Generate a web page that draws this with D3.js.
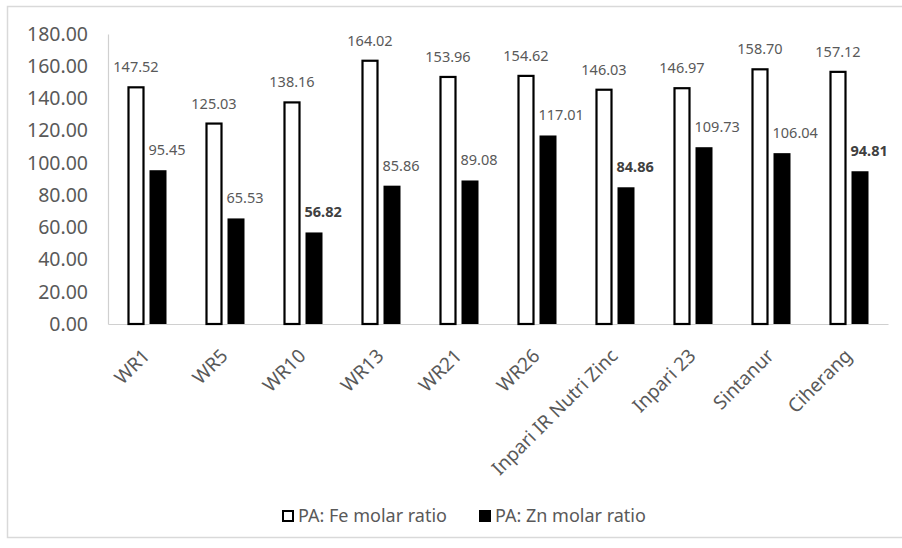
<!DOCTYPE html>
<html>
<head>
<meta charset="utf-8">
<script src="https://cdn.jsdelivr.net/npm/d3@7/dist/d3.min.js"></script>
<style>
  html, body { margin: 0; padding: 0; background: #fff; }
  svg { display: block; font-family: "Noto Sans", "Open Sans", sans-serif; }
</style>
</head>
<body>
<svg id="chart" width="902" height="548"></svg>
<script>
const categories = ["WR1", "WR5", "WR10", "WR13", "WR21", "WR26", "Inpari IR Nutri Zinc", "Inpari 23", "Sintanur", "Ciherang"];
const feRatio = [147.52, 125.03, 138.16, 164.02, 153.96, 154.62, 146.03, 146.97, 158.70, 157.12];
const znRatio = [95.45, 65.53, 56.82, 85.86, 89.08, 117.01, 84.86, 109.73, 106.04, 94.81];
const yTicks = [0, 20, 40, 60, 80, 100, 120, 140, 160, 180];
const seriesNames = ["PA: Fe molar ratio", "PA: Zn molar ratio"];

const svg = d3.select("#chart");
const textColor = "#595959";

// outer frame
svg.append("rect").attr("x", 7.5).attr("y", 6.5).attr("width", 900).attr("height", 531)
  .attr("fill", "none").attr("stroke", "#d9d9d9").attr("stroke-width", 1.5);

const x = d3.scaleBand().domain(categories).range([108, 888]).paddingInner(0).paddingOuter(0);
const y = d3.scaleLinear().domain([0, 180]).range([324, 34]);

// y axis
const yAxis = d3.axisLeft(y).tickValues(yTicks).tickFormat(d3.format(".2f")).tickSize(0).tickPadding(20);
const gy = svg.append("g").attr("transform", "translate(108,0)").call(yAxis);
gy.select(".domain").attr("stroke", "#d0d0d0").attr("stroke-width", 1.2);
gy.selectAll("text").attr("fill", textColor).style("font-size", "19.5px")
  .style("font-family", "'Noto Sans', sans-serif");

// x axis
const xAxis = d3.axisBottom(x).tickSize(0).tickFormat("");
const gx = svg.append("g").attr("transform", "translate(0,324)").call(xAxis);
gx.select(".domain").attr("stroke", "#d0d0d0").attr("stroke-width", 1.2);

// category labels
svg.append("g").selectAll("text").data(categories).join("text")
  .attr("transform", d => `translate(${x(d) + x.bandwidth() / 2 + 4},357) rotate(-45)`)
  .attr("text-anchor", "end")
  .attr("fill", textColor)
  .style("font-size", "19px")
  .text(d => d);

const barW = 17;
const gap = 2.5;
const cx = d => x(d) + x.bandwidth() / 2;

// Fe bars (white with black border)
svg.append("g").selectAll("rect").data(categories).join("rect")
  .attr("x", d => cx(d) - gap - barW + 1)
  .attr("y", (d, i) => y(feRatio[i]) + 1)
  .attr("width", barW - 2)
  .attr("height", (d, i) => y(0) - y(feRatio[i]) - 1)
  .attr("fill", "#fff").attr("stroke", "#000").attr("stroke-width", 2.2);

// Zn bars (black)
svg.append("g").selectAll("rect").data(categories).join("rect")
  .attr("x", d => cx(d) + gap)
  .attr("y", (d, i) => y(znRatio[i]))
  .attr("width", barW)
  .attr("height", (d, i) => y(0) - y(znRatio[i]))
  .attr("fill", "#000");

// Fe labels
svg.append("g").selectAll("text").data(categories).join("text")
  .attr("x", d => cx(d) - gap - barW / 2)
  .attr("y", (d, i) => y(feRatio[i]) - 14)
  .attr("text-anchor", "middle")
  .attr("fill", textColor)
  .style("font-size", "14.5px")
  .text((d, i) => feRatio[i].toFixed(2));

// Zn labels
const boldZn = new Set([2, 6, 9]);
svg.append("g").selectAll("text").data(categories).join("text")
  .attr("x", d => cx(d) + gap - 1)
  .attr("y", (d, i) => y(znRatio[i]) - 15)
  .attr("text-anchor", "start")
  .attr("fill", (d, i) => boldZn.has(i) ? "#404040" : textColor)
  .style("font-size", "14.5px")
  .style("font-weight", (d, i) => boldZn.has(i) ? "bold" : "normal")
  .text((d, i) => znRatio[i].toFixed(2));

// legend
const legend = svg.append("g");
const legendX = [282, 479];
seriesNames.forEach((name, i) => {
  legend.append("rect")
    .attr("x", legendX[i] + (i === 0 ? 1 : 0)).attr("y", 510 + (i === 0 ? 1 : 0))
    .attr("width", i === 0 ? 10 : 12).attr("height", i === 0 ? 10 : 12)
    .attr("fill", i === 0 ? "#fff" : "#000")
    .attr("stroke", i === 0 ? "#000" : "none").attr("stroke-width", 2);
  legend.append("text")
    .attr("x", legendX[i] + 16).attr("y", 522)
    .attr("fill", textColor).style("font-size", "18px")
    .text(name);
});
</script>
</body>
</html>
